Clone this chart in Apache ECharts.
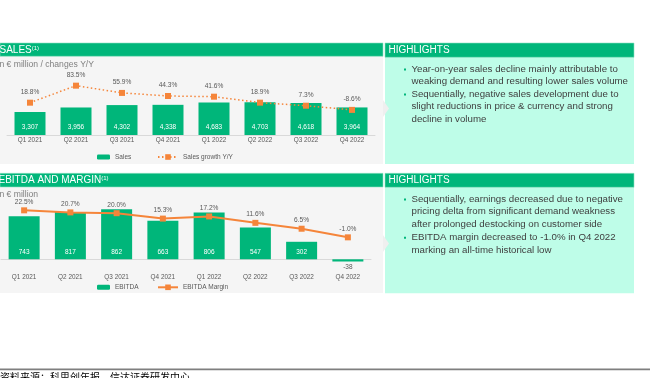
<!DOCTYPE html>
<html>
<head>
<meta charset="utf-8">
<script src="https://cdn.jsdelivr.net/npm/echarts@6/dist/echarts.min.js"></script>
<style>
html,body{margin:0;padding:0;background:#fff;}
#c{width:650px;height:378px;}
</style>
</head>
<body>
<div id="c"></div>
<script>
const categories = ['Q1 2021','Q2 2021','Q3 2021','Q4 2021','Q1 2022','Q2 2022','Q3 2022','Q4 2022'];
const sales = [3307,3956,4302,4338,4683,4703,4618,3964];
const salesGrowth = [18.8,83.5,55.9,44.3,41.6,18.9,7.3,-8.6];
const ebitda = [743,817,862,663,806,547,302,-38];
const ebitdaMargin = [22.5,20.7,20.0,15.3,17.2,11.6,6.5,-1.0];

const salesTitle = 'SALES';
const salesSubtitle = 'in € million / changes Y/Y';
const ebitdaTitle = 'EBITDA AND MARGIN';
const ebitdaSubtitle = 'in € million';
const highlightsTitle = 'HIGHLIGHTS';
const salesBullets = [
  'Year-on-year sales decline mainly attributable to\nweaking demand and resulting lower sales volume',
  'Sequentially, negative sales development due to\nslight reductions in price & currency and strong\ndecline in volume'
];
const ebitdaBullets = [
  'Sequentially, earnings decreased due to negative\npricing delta from significant demand weakness\nafter prolonged destocking on customer side',
  'EBITDA margin decreased to -1.0% in Q4 2022\nmarking an all-time historical low'
];
const sourceNote = '资料来源：科思创年报，信达证券研发中心';

const GREEN = '#00B67A';
const ORANGE = '#F5853A';
const GRAY = '#595959';
const FONT = '"Liberation Sans", Arial, sans-serif';

const chart = echarts.init(document.getElementById('c'), null, {renderer:'canvas'});

function fmtNum(v){ return v.toLocaleString('en-US'); }
function fmtPct(v){ return v.toFixed(1) + '%'; }

function bulletGraphics(list, x, tops){
  const out = [];
  list.forEach((t,i)=>{
    out.push({type:'rect', shape:{x:x-7.5, y:tops[i]+5.2, width:2, height:2}, style:{fill:GREEN}});
    out.push({type:'text', x:x, y:tops[i], style:{text:t, font:'9.7px ' + FONT, fill:'#404040', lineHeight:12.3, textVerticalAlign:'top'}});
  });
  return out;
}

const graphics = [
  // panel 1 backgrounds
  {type:'rect', shape:{x:0,y:56,width:383,height:108}, style:{fill:'#F5F5F5'}},
  {type:'rect', shape:{x:385,y:57,width:249,height:107}, style:{fill:'#BEFDE8'}},
  {type:'rect', shape:{x:0,y:43,width:383,height:13.3}, style:{fill:GREEN, stroke:'#8fe0c2', lineWidth:0.6}},
  {type:'rect', shape:{x:385,y:43,width:249,height:14.3}, style:{fill:GREEN, stroke:'#8fe0c2', lineWidth:0.6}},
  {type:'polygon', shape:{points:[[383,100],[389,108.5],[383,117]]}, style:{fill:'#EFEFEF'}},
  // panel 2 backgrounds
  {type:'rect', shape:{x:0,y:187,width:383,height:106}, style:{fill:'#F5F5F5'}},
  {type:'rect', shape:{x:385,y:187.3,width:249,height:106}, style:{fill:'#BEFDE8'}},
  {type:'rect', shape:{x:0,y:173.3,width:383,height:13.7}, style:{fill:GREEN, stroke:'#8fe0c2', lineWidth:0.6}},
  {type:'rect', shape:{x:385,y:173.3,width:249,height:14}, style:{fill:GREEN, stroke:'#8fe0c2', lineWidth:0.6}},
  {type:'polygon', shape:{points:[[383,235],[389,243.5],[383,252]]}, style:{fill:'#EFEFEF'}},
  // titles
  {type:'text', x:-0.5, y:50.2, style:{text:'{t|' + salesTitle + '}{s|(1)}', rich:{t:{font:'10px ' + FONT, fill:'#fff'}, s:{font:'6px ' + FONT, fill:'#fff', verticalAlign:'top', padding:[0,0,4,0]}}, textVerticalAlign:'middle'}},
  {type:'text', x:388.5, y:50.5, style:{text:highlightsTitle, font:'10px ' + FONT, fill:'#fff', textVerticalAlign:'middle'}},
  {type:'text', x:-1.5, y:180.7, style:{text:'{t|' + ebitdaTitle + '}{s|(1)}', rich:{t:{font:'10px ' + FONT, fill:'#fff'}, s:{font:'6px ' + FONT, fill:'#fff', verticalAlign:'top', padding:[0,0,4,0]}}, textVerticalAlign:'middle'}},
  {type:'text', x:388.5, y:180.7, style:{text:highlightsTitle, font:'10px ' + FONT, fill:'#fff', textVerticalAlign:'middle'}},
  // subtitles
  {type:'text', x:-2.5, y:65, style:{text:salesSubtitle, font:'8.6px ' + FONT, fill:'#808080', textVerticalAlign:'middle'}},
  {type:'text', x:-2.5, y:195, style:{text:ebitdaSubtitle, font:'8.6px ' + FONT, fill:'#808080', textVerticalAlign:'middle'}},
  // footer
  {type:'rect', shape:{x:0,y:368.6,width:650,height:1.6}, style:{fill:'#7f7f7f'}},
  {type:'text', x:0, y:372.5, style:{text:sourceNote, font:'10px "Noto Sans CJK SC"', fill:'#000', textVerticalAlign:'top'}}
].concat(bulletGraphics(salesBullets, 411.5, [63.2, 88.2]))
 .concat(bulletGraphics(ebitdaBullets, 411.5, [193.2, 231.5]));

const legendCommon = {padding:0, textStyle:{fontSize:6.5, color:GRAY}};
const option = {
  animation:false,
  textStyle:{fontFamily:FONT},
  graphic:{elements:graphics},
  legend:[
    Object.assign({data:['Sales'], left:97, top:153.5, itemWidth:13, itemHeight:5}, legendCommon),
    Object.assign({data:['Sales growth Y/Y'], left:157, top:153.5, itemWidth:20, itemHeight:7}, legendCommon),
    Object.assign({data:['EBITDA'], left:97, top:283.8, itemWidth:13, itemHeight:5}, legendCommon),
    Object.assign({data:['EBITDA Margin'], left:157, top:283.8, itemWidth:20, itemHeight:7}, legendCommon)
  ],
  grid:[
    {left:7, width:368, top:57, height:78},
    {left:1, width:370, top:187, height:78}
  ],
  xAxis:[
    {type:'category', gridIndex:0, data:categories, axisTick:{show:false},
     axisLine:{lineStyle:{color:'#D9D9D9', width:1}},
     axisLabel:{fontSize:6.4, color:GRAY, margin:2.5}},
    {type:'category', gridIndex:1, data:categories, axisTick:{show:false},
     axisLine:{onZero:true, onZeroAxisIndex:2, lineStyle:{color:'#D9D9D9', width:1}},
     axisLabel:{fontSize:6.4, color:GRAY, margin:9.5}}
  ],
  yAxis:[
    {type:'value', gridIndex:0, min:0, max:11215, show:false, splitLine:{show:false}},
    {type:'value', gridIndex:0, min:-104.1, max:192.5, show:false, splitLine:{show:false}},
    {type:'value', gridIndex:1, min:-98.3, max:1246.6, show:false, splitLine:{show:false}},
    {type:'value', gridIndex:1, min:-25.07, max:42.8, show:false, splitLine:{show:false}}
  ],
  series:[
    {name:'Sales', type:'bar', xAxisIndex:0, yAxisIndex:0, data:sales, barWidth:31,
     itemStyle:{color:GREEN},
     label:{show:true, position:'insideBottom', distance:4, color:'#fff', fontSize:6.5, formatter:p=>fmtNum(p.value)}},
    {name:'Sales growth Y/Y', type:'line', xAxisIndex:0, yAxisIndex:1, data:salesGrowth,
     symbol:'rect', symbolSize:6, z:5,
     lineStyle:{color:ORANGE, width:1.5, type:[1.5,2.5]}, itemStyle:{color:ORANGE},
     label:{show:true, position:'top', distance:4, color:GRAY, fontSize:6.6, formatter:p=>fmtPct(p.value)}},
    {name:'EBITDA', type:'bar', xAxisIndex:1, yAxisIndex:2, barWidth:31,
     data:ebitda.map(v=> v<0 ? {value:v, label:{position:'bottom', color:GRAY, distance:2}} : v),
     itemStyle:{color:GREEN},
     label:{show:true, position:'insideBottom', distance:4, color:'#fff', fontSize:6.5, formatter:p=>fmtNum(p.value)}},
    {name:'EBITDA Margin', type:'line', xAxisIndex:1, yAxisIndex:3, data:ebitdaMargin,
     symbol:'rect', symbolSize:6, z:5,
     lineStyle:{color:ORANGE, width:2}, itemStyle:{color:ORANGE},
     label:{show:true, position:'top', distance:2, color:GRAY, fontSize:6.6, formatter:p=>fmtPct(p.value)}}
  ]
};
chart.setOption(option);
</script>
</body>
</html>
